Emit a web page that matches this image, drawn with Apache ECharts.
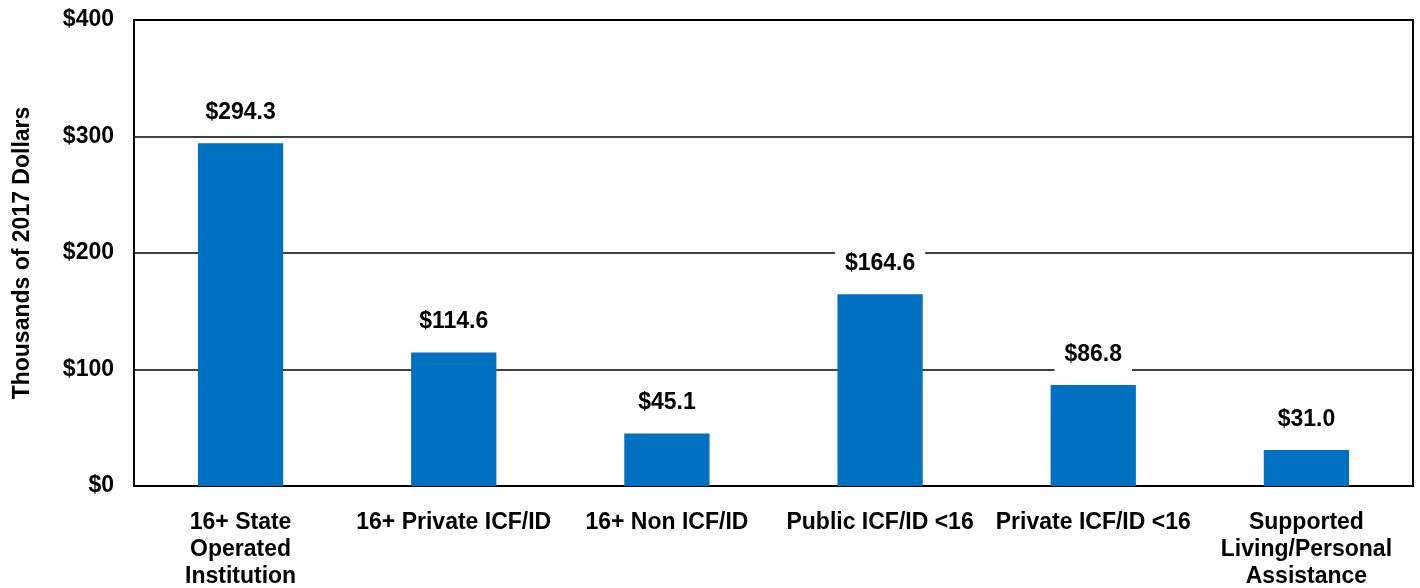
<!DOCTYPE html>
<html>
<head>
<meta charset="utf-8">
<script src="https://cdn.jsdelivr.net/npm/echarts@6/dist/echarts.min.js"></script>
<style>
  html, body { margin: 0; padding: 0; background: #fff; }
  #chart { width: 1420px; height: 588px; }
</style>
</head>
<body>
<div id="chart"></div>
<script>
// 数据
const categories = [
  "16+ State\nOperated\nInstitution",
  "16+ Private ICF/ID",
  "16+ Non ICF/ID",
  "Public ICF/ID <16",
  "Private ICF/ID <16",
  "Supported\nLiving/Personal\nAssistance",
];
const costValues = [294.3, 114.6, 45.1, 164.6, 86.8, 31.0];
const yTicks = [0, 100, 200, 300, 400];

const myChart = echarts.init(document.getElementById("chart"));
const option = {
  animation: false,
  textStyle: { fontFamily: "Liberation Sans, Arial, sans-serif" },
  grid: {
    left: 134,
    right: 7,
    top: 20,
    bottom: 102,
    outerBoundsMode: "none",
    containLabel: false,
    show: true,
    borderColor: "#000",
    borderWidth: 2,
  },
  xAxis: {
    type: "category",
    data: categories,
    axisLine: { show: true, lineStyle: { color: "#000", width: 2 } },
    axisTick: { show: false },
    axisLabel: {
      interval: 0,
      margin: 23,
      color: "#000",
      fontSize: 23,
      fontWeight: "bold",
      lineHeight: 27,
    },
  },
  yAxis: {
    type: "value",
    min: yTicks[0],
    max: yTicks[yTicks.length - 1],
    interval: 100,
    name: "Thousands of 2017 Dollars",
    nameLocation: "middle",
    nameGap: 100,
    nameTextStyle: { color: "#000", fontSize: 23, fontWeight: "bold" },
    axisLine: { show: false },
    axisTick: { show: false },
    splitLine: { lineStyle: { color: "#000", width: 1.5 } },
    axisLabel: {
      margin: 20,
      color: "#000",
      fontSize: 23,
      fontWeight: "bold",
      formatter: function (v) {
        return "$" + v;
      },
    },
  },
  series: [
    {
      type: "bar",
      data: costValues,
      barWidth: "40%",
      itemStyle: { color: "#0070C0" },
      label: {
        show: true,
        position: "top",
        distance: 8,
        color: "#000",
        fontSize: 23,
        fontWeight: "bold",
        backgroundColor: "#fff",
        // 白底盖住网格线
        padding: [4, 10, 11, 10],
        formatter: function (p) {
          return "$" + p.value.toFixed(1);
        },
      },
    },
  ],
};
myChart.setOption(option);
</script>
</body>
</html>
